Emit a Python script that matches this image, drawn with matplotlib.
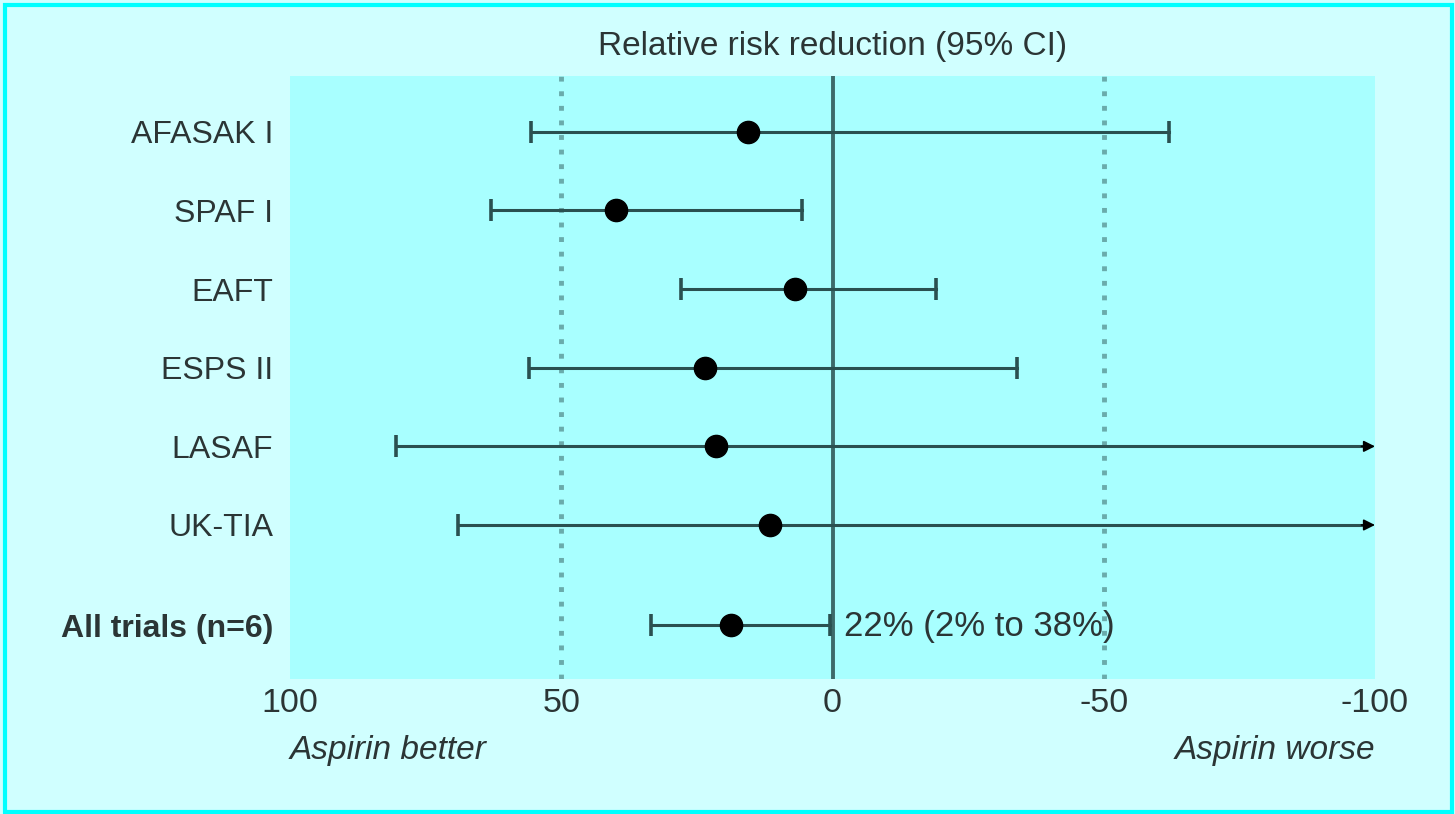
import numpy as np
import matplotlib
matplotlib.use("Agg")
import matplotlib.pyplot as plt
from matplotlib.patches import Rectangle

plt.rcParams['font.family'] = ['Liberation Sans', 'DejaVu Sans']

# ---- data (relative risk reduction, %) ----
trials = ["AFASAK I", "SPAF I", "EAFT", "ESPS II", "LASAF", "UK-TIA"]
rrr = [15.5, 40.0, 7.0, 23.5, 21.5, 11.5]
ci_better = [55.5, 63.0, 28.0, 56.0, 80.5, 69.0]      # upper RRR bound
ci_worse = [-62.0, 5.7, -19.0, -34.0, None, None]     # None = beyond axis (arrow)

summary_label = "All trials (n=6)"
summary_rrr = 18.7
summary_better = 33.5
summary_worse = 0.5
summary_text = "22% (2% to 38%)"

xticks = [100, 50, 0, -50, -100]
xticklabels = ["100", "50", "0", "-50", "-100"]
ref_lines = [50, -50]

# ---- style ----
FIG_BG = '#d0ffff'
AX_BG = '#a8ffff'
LINE_C = '#2a5050'
ZERO_C = '#3d6a6a'
DOT_C = '#6aabab'
TXT_C = '#2b3535'
FS = 23

fig = plt.figure(figsize=(14.55, 8.14), dpi=100, facecolor=FIG_BG)
ax = fig.add_axes([290 / 1455, (814 - 678.5) / 814, (1375 - 290) / 1455, (678.5 - 76) / 814])
ax.set_facecolor(AX_BG)
for s in ax.spines.values():
    s.set_visible(False)

ypos = list(range(len(trials)))
y_sum = len(trials) - 1 + 100 / 78.6

ax.set_xlim(100, -100)
ax.set_ylim(y_sum + 0.68, -0.71)

# reference lines
ax.axvline(0, color=ZERO_C, lw=2.8, zorder=2)
for r in ref_lines:
    ax.axvline(r, color=DOT_C, lw=3.5, linestyle=(0, (1, 2)), zorder=1)

def draw_row(y, pt, hi, lo):
    if lo is None:
        ax.plot([hi, -98], [y, y], color=LINE_C, lw=2.2, zorder=3)
        ax.annotate('', xy=(-100, y), xytext=(-97.5, y),
                    arrowprops=dict(arrowstyle='-|>', color='black', lw=1.2,
                                    mutation_scale=17, shrinkA=0, shrinkB=0,
                                    fc='black', ec='black'), zorder=3)
        ax.plot([hi], [y], marker='|', markersize=16, mew=2.6, color=LINE_C, zorder=3)
    else:
        ax.plot([hi, lo], [y, y], color=LINE_C, lw=2.2, zorder=3)
        ax.plot([hi, lo], [y, y], linestyle='none', marker='|', markersize=16,
                mew=2.6, color=LINE_C, zorder=3)
    ax.plot([pt], [y], marker='o', markersize=16, color='black', zorder=4)

for y, pt, hi, lo in zip(ypos, rrr, ci_better, ci_worse):
    draw_row(y, pt, hi, lo)
draw_row(y_sum, summary_rrr, summary_better, summary_worse)

ax.annotate(summary_text, xy=(summary_worse, y_sum), xytext=(10, -1),
            textcoords='offset points', va='center', ha='left',
            fontsize=25, color=TXT_C)

# ticks
ax.set_xticks(xticks)
ax.set_xticklabels(xticklabels, fontsize=24.5, color=TXT_C)
ax.set_yticks(ypos + [y_sum])
ax.set_yticklabels(trials + [summary_label], fontsize=FS, color=TXT_C)
ax.get_yticklabels()[-1].set_fontweight('bold')
ax.tick_params(axis='both', length=0)
ax.tick_params(axis='x', pad=7)
ax.tick_params(axis='y', pad=12)

# title and side notes
ax.annotate("Relative risk reduction (95% CI)", xy=(0.5, 1.0), xycoords='axes fraction',
            xytext=(0, 10), textcoords='offset points',
            ha='center', va='bottom', fontsize=24, color=TXT_C)
ax.text(0.0, -0.12, "Aspirin better", transform=ax.transAxes, ha='left', va='center',
        fontsize=24, style='italic', color=TXT_C)
ax.text(1.0, -0.12, "Aspirin worse", transform=ax.transAxes, ha='right', va='center',
        fontsize=24, style='italic', color=TXT_C)

# figure border
fig.patches.append(Rectangle((4.5 / 1455, 2.5 / 814), 1 - 7.5 / 1455, 1 - 7.5 / 814,
                             transform=fig.transFigure, fill=False,
                             edgecolor='#00ffff', lw=3))

fig.savefig('out.png', dpi=100, facecolor=FIG_BG)
